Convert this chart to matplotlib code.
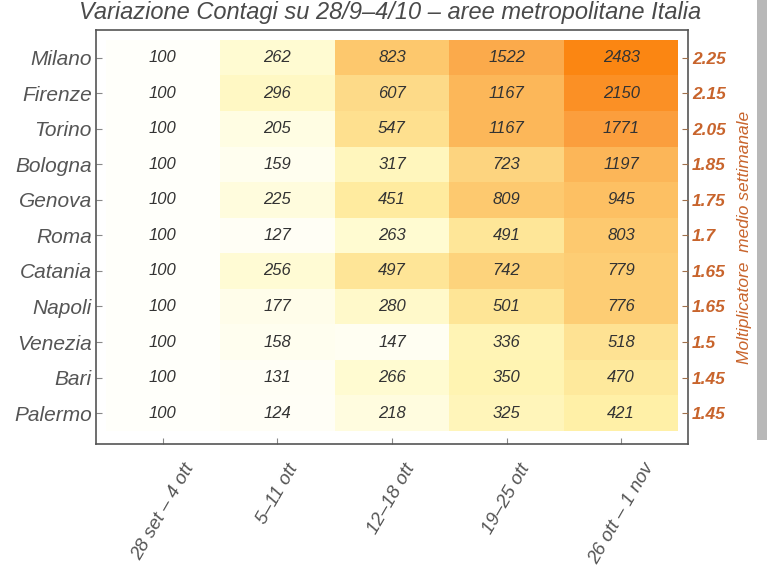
import numpy as np
import matplotlib
matplotlib.use("Agg")
import matplotlib.pyplot as plt
from matplotlib.colors import LinearSegmentedColormap, LogNorm
from matplotlib.patches import Rectangle

cities = ["Milano", "Firenze", "Torino", "Bologna", "Genova", "Roma",
          "Catania", "Napoli", "Venezia", "Bari", "Palermo"]
weeks = ["28 set – 4 ott", "5–11 ott", "12–18 ott", "19–25 ott", "26 ott – 1 nov"]
w1 = [100, 100, 100, 100, 100, 100, 100, 100, 100, 100, 100]
w2 = [262, 296, 205, 159, 225, 127, 256, 177, 158, 131, 124]
w3 = [823, 607, 547, 317, 451, 263, 497, 280, 147, 266, 218]
w4 = [1522, 1167, 1167, 723, 809, 491, 742, 501, 336, 350, 325]
w5 = [2483, 2150, 1771, 1197, 945, 803, 779, 776, 518, 470, 421]
multipliers = ["2.25", "2.15", "2.05", "1.85", "1.75", "1.7", "1.65", "1.65", "1.5", "1.45", "1.45"]

title = "Variazione Contagi su 28/9–4/10 – aree metropolitane Italia"
right_label = "Moltiplicatore  medio settimanale"

data = np.array([w1, w2, w3, w4, w5]).T

plt.rcParams['font.family'] = ['Liberation Sans', 'DejaVu Sans']

cmap = LinearSegmentedColormap.from_list("yo", [
    (0.0, "#fffffa"),
    (0.12, "#fffef2"),
    (0.22, "#fffde4"),
    (0.30, "#fffbd2"),
    (0.38, "#fff4b4"),
    (0.45, "#fff0a6"),
    (0.50, "#fee596"),
    (0.56, "#fdda88"),
    (0.62, "#fdd47e"),
    (0.66, "#fdc66a"),
    (0.77, "#fcb658"),
    (0.85, "#fbaa4a"),
    (0.90, "#fb9e3c"),
    (0.95, "#fb9228"),
    (1.0, "#fb8612"),
])

fig = plt.figure(figsize=(7.67, 5.76), dpi=100)
fig.patch.set_facecolor("white")
ax = fig.add_axes([96/767, 1-444/576, (688-96)/767, (444-30)/576])

nrows, ncols = data.shape
x_edges = np.arange(ncols + 1) - 0.5
y_edges = np.arange(nrows + 1) - 0.5
ax.pcolormesh(x_edges, y_edges, data, cmap=cmap,
              norm=LogNorm(vmin=100, vmax=2483), shading="flat")

for i in range(nrows):
    for j in range(ncols):
        ax.text(j, i, str(data[i, j]), ha="center", va="center",
                fontsize=12, style="italic", color="#333333")

ax.set_xlim(-0.583, ncols - 0.5 + 0.083)
ax.set_ylim(nrows - 0.5 + 0.37, -0.5 - 0.28)

gray = "#555555"
orange = "#c8642c"
ax.set_yticks(range(nrows))
ax.set_yticklabels(cities, fontsize=15, style="italic", color=gray)
ax.set_xticks(range(ncols))
ax.set_xticklabels(weeks, fontsize=13.5, style="italic", color=gray,
                   rotation=60, ha="center", va="top")
ax.tick_params(axis="both", direction="in", length=4, color="#888888", width=0.8)
ax.tick_params(axis="x", pad=12)
ax.tick_params(axis="y", pad=3)
for s in ax.spines.values():
    s.set_color("#555555")
    s.set_linewidth(1.2)

ax2 = ax.twinx()
ax2.set_ylim(ax.get_ylim())
ax2.set_yticks(range(nrows))
ax2.set_yticklabels(multipliers, fontsize=12.5, style="italic", weight="bold", color=orange)
ax2.tick_params(axis="y", direction="in", length=4, color="#a0704c", width=0.8, pad=3)
ax2.set_ylabel(right_label, fontsize=12.5, style="italic", color=orange, labelpad=8)
for s in ax2.spines.values():
    s.set_visible(False)

fig.text(390/767, 1 - 13/576, title, ha="center", va="center",
         fontsize=17, style="italic", color="#4a4a4a")

fig.add_artist(Rectangle((757/767, 1-440/576), 10/767, 440/576,
                         transform=fig.transFigure, color="#b8b8b8", lw=0))

fig.savefig("out.png", dpi=100)
